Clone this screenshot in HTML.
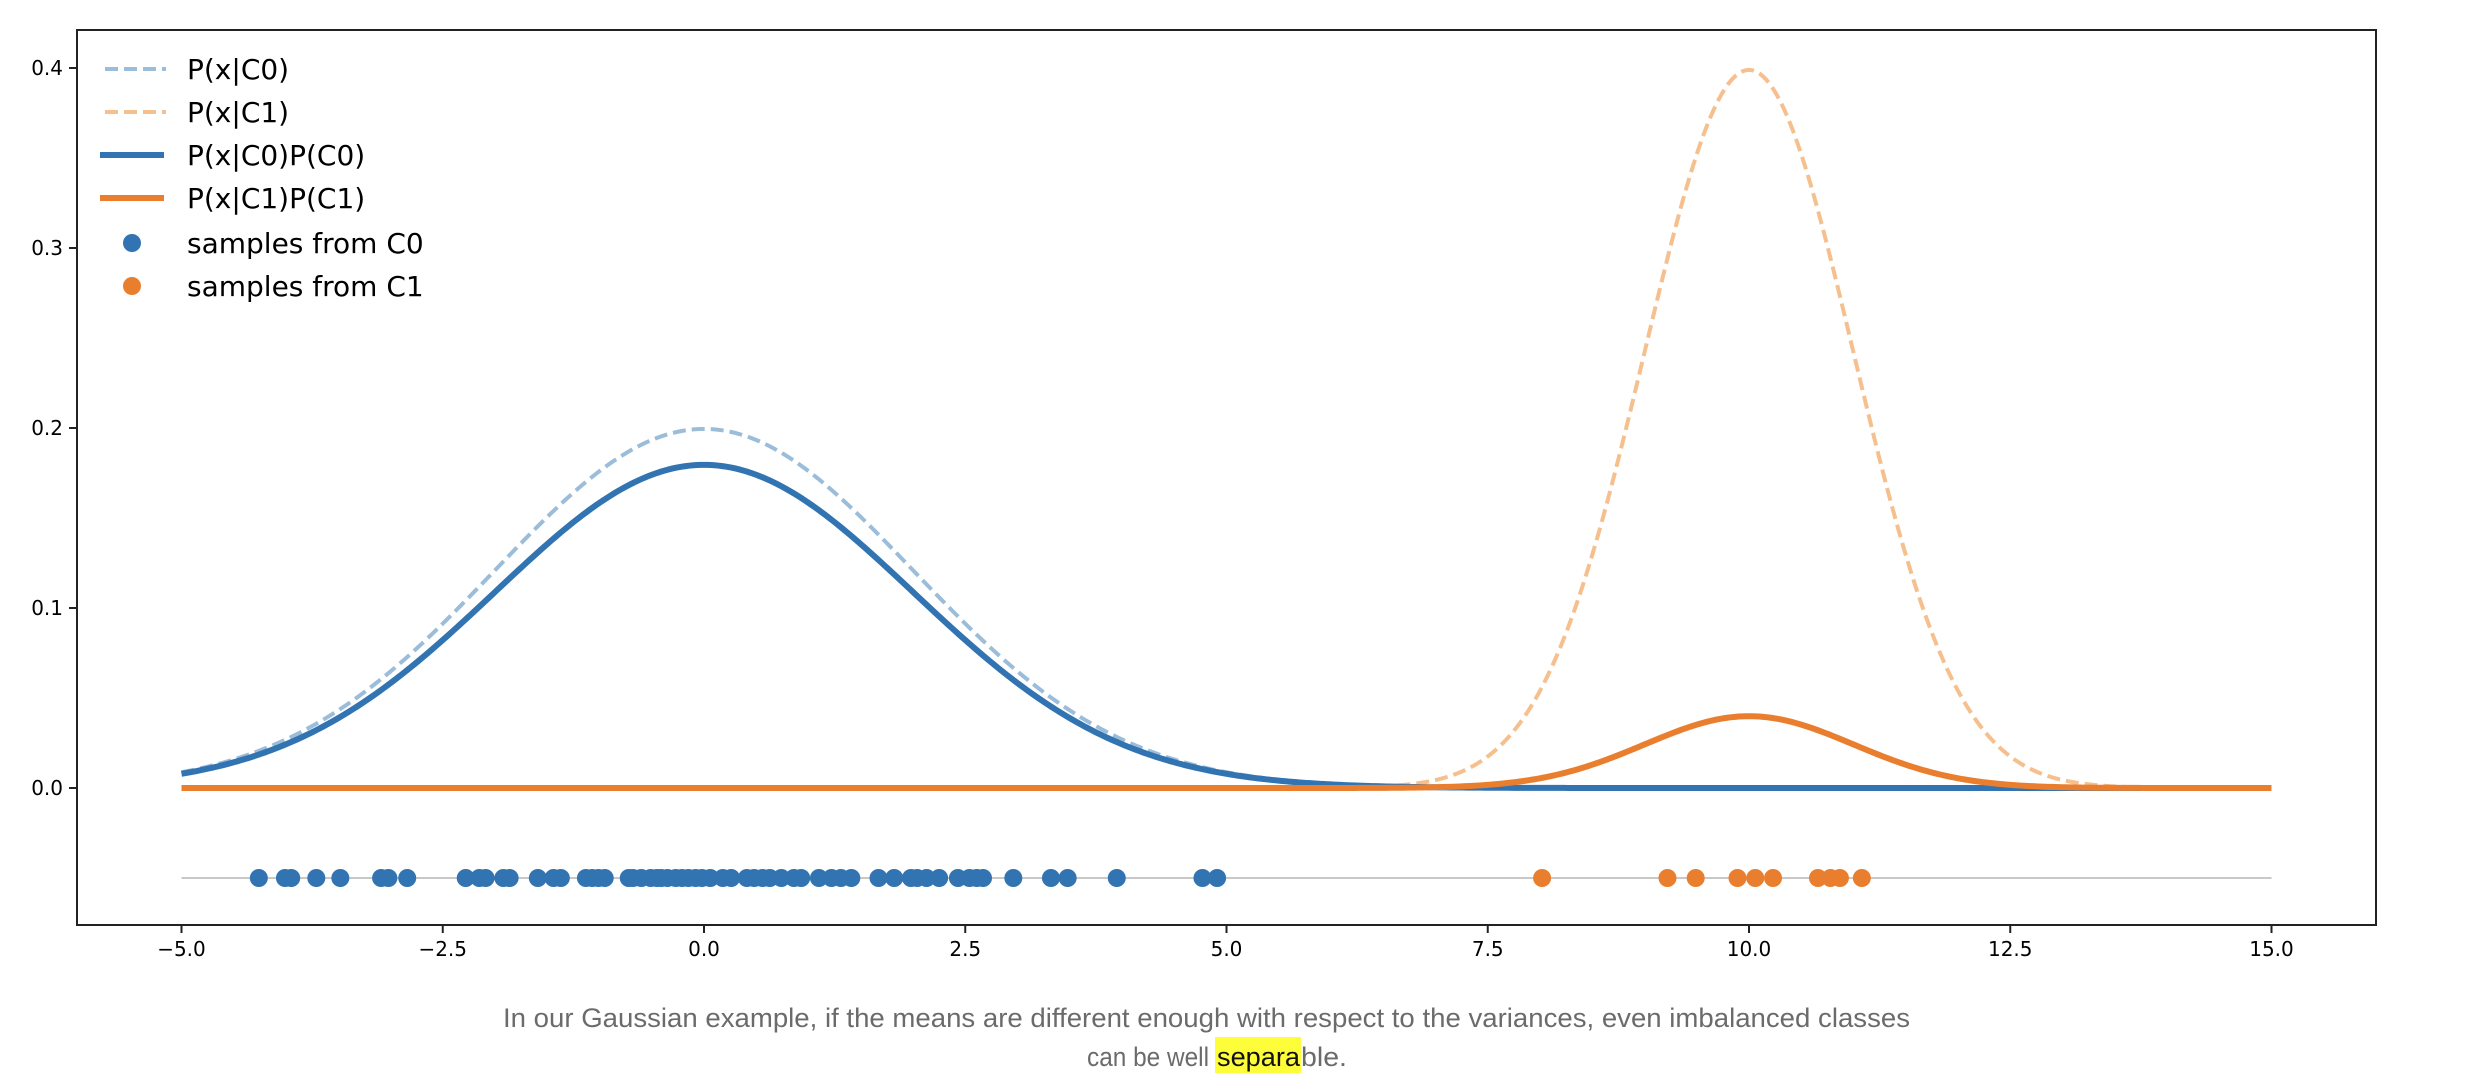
<!DOCTYPE html>
<html><head><meta charset="utf-8"><style>
html,body{margin:0;padding:0;background:#fff;}
svg{display:block;}
</style></head><body>
<svg id="chart" width="2466" height="1092" viewBox="0 0 2466 1092" xmlns="http://www.w3.org/2000/svg">
<rect x="0" y="0" width="2466" height="1092" fill="#fff"/>
<g id="marks"></g>
<g id="axes"></g>
<g id="legend" font-family="DejaVu Sans, Liberation Sans, sans-serif" font-size="28" fill="#000">
  <line x1="105" y1="69" x2="166" y2="69" stroke="#9bbdda" stroke-width="4" stroke-dasharray="13,6"/>
  <text x="187" y="79">P(x|C0)</text>
  <line x1="105" y1="112" x2="166" y2="112" stroke="#f5c08e" stroke-width="4" stroke-dasharray="13,6"/>
  <text x="187" y="122">P(x|C1)</text>
  <line x1="100" y1="155" x2="164" y2="155" stroke="#3274b1" stroke-width="6"/>
  <text x="187" y="165">P(x|C0)P(C0)</text>
  <line x1="100" y1="198" x2="164" y2="198" stroke="#e97f2e" stroke-width="6"/>
  <text x="187" y="208">P(x|C1)P(C1)</text>
  <circle cx="132" cy="243" r="9" fill="#3274b1"/>
  <text x="187" y="253">samples from C0</text>
  <circle cx="132" cy="286" r="9" fill="#e97f2e"/>
  <text x="187" y="296">samples from C1</text>
</g>
<g font-family="Liberation Sans, sans-serif" font-size="27" fill="#6b6b6b">
  <rect x="1215" y="1037" width="86" height="36" fill="#fdfd3a"/>
  <text x="503" y="1027" textLength="1407" lengthAdjust="spacingAndGlyphs">In our Gaussian example, if the means are different enough with respect to the variances, even imbalanced classes</text>
  <text x="1087" y="1066" textLength="122" lengthAdjust="spacingAndGlyphs">can be well</text>
  <text x="1217" y="1066" textLength="83" lengthAdjust="spacingAndGlyphs" fill="#111">separa</text>
  <text x="1301" y="1066" textLength="46" lengthAdjust="spacingAndGlyphs">ble.</text>
</g>
</svg>
<script>
// Data
const means = [0, 10];
const stdDevs = [2, 1];
const priors = [0.9, 0.1];
const xDomain = [-5, 15];
const samplesC0 = [-4.26,-4.01,-3.95,-3.71,-3.48,-3.09,-3.02,-2.84,-2.28,-2.15,-2.09,-1.92,-1.86,-1.59,-1.44,-1.37,-1.13,-1.07,-1.01,-0.95,-0.72,-0.68,-0.60,-0.51,-0.45,-0.41,-0.35,-0.27,-0.21,-0.15,-0.08,-0.02,0.06,0.18,0.26,0.41,0.48,0.56,0.63,0.74,0.86,0.93,1.10,1.22,1.31,1.41,1.67,1.82,1.98,2.04,2.13,2.25,2.43,2.54,2.61,2.67,2.96,3.32,3.48,3.95,4.77,4.91];
const samplesC1 = [8.02,9.22,9.49,9.89,10.06,10.23,10.66,10.78,10.87,11.08];
const sampleLevel = -0.05;
const xTicks = [-5, -2.5, 0, 2.5, 5, 7.5, 10, 12.5, 15];
const xTickLabels = ["\u22125.0","\u22122.5","0.0","2.5","5.0","7.5","10.0","12.5","15.0"];
const yTicks = [0, 0.1, 0.2, 0.3, 0.4];
const yTickLabels = ["0.0","0.1","0.2","0.3","0.4"];

const NS = "http://www.w3.org/2000/svg";
const X = v => 704 + (v - 0) * 104.5;
const Y = v => 788 - v * 1800;
const marks = document.getElementById('marks');
const axes = document.getElementById('axes');
function mk(tag, attrs, parent){ const e=document.createElementNS(NS,tag); for(const k in attrs) e.setAttribute(k,attrs[k]); parent.appendChild(e); return e; }
function pdf(x,m,s){ return Math.exp(-0.5*((x-m)/s)**2)/(s*Math.sqrt(2*Math.PI)); }
function curve(i, scale){
  let d=''; const n=600;
  for(let k=0;k<=n;k++){ const x=xDomain[0]+(xDomain[1]-xDomain[0])*k/n; const y=pdf(x,means[i],stdDevs[i])*scale; d+=(k?'L':'M')+X(x).toFixed(2)+' '+Y(y).toFixed(2); }
  return d;
}
const bl = mk('line',{x1:X(xDomain[0]),x2:X(xDomain[1]),y1:Y(sampleLevel),y2:Y(sampleLevel),stroke:'#c8c8c8','stroke-width':2},marks);


const specs = [
  {i:0, s:1, c:'#9bbdda', w:4, dash:'13,6', n:'curve-pc0'},
  {i:1, s:1, c:'#f5c08e', w:4, dash:'13,6', n:'curve-pc1'},
  {i:0, s:priors[0], c:'#3274b1', w:6, dash:'', n:'curve-pc0-prior'},
  {i:1, s:priors[1], c:'#e97f2e', w:6, dash:'', n:'curve-pc1-prior'}
];
specs.forEach(sp=>{
  const p = mk('path',{d:curve(sp.i,sp.s),fill:'none',stroke:sp.c,'stroke-width':sp.w},marks);
  if(sp.dash) p.setAttribute('stroke-dasharray',sp.dash);
  
  
});
samplesC0.forEach(v=>{
  const c = mk('circle',{cx:X(v),cy:Y(sampleLevel),r:9,fill:'#3274b1'},marks);
  
  
});
samplesC1.forEach(v=>{
  const c = mk('circle',{cx:X(v),cy:Y(sampleLevel),r:9,fill:'#e97f2e'},marks);
  
  
});
const fr = mk('rect',{x:77,y:30,width:2376-77,height:925-30,fill:'none',stroke:'#222','stroke-width':2},axes);


xTicks.forEach((t,k)=>{
  const l = mk('line',{x1:X(t),x2:X(t),y1:925,y2:933,stroke:'#222','stroke-width':2},axes);
  
  
  const tx = mk('text',{x:X(t),y:956,'text-anchor':'middle','font-family':'DejaVu Sans, Liberation Sans, sans-serif','font-size':20,fill:'#000'},axes);
  tx.textContent = xTickLabels[k];
  
  
});
yTicks.forEach((t,k)=>{
  const l = mk('line',{x1:69,x2:77,y1:Y(t),y2:Y(t),stroke:'#222','stroke-width':2},axes);
  
  
  const tx = mk('text',{x:63,y:Y(t)+7,'text-anchor':'end','font-family':'DejaVu Sans, Liberation Sans, sans-serif','font-size':20,fill:'#000'},axes);
  tx.textContent = yTickLabels[k];
  
  
});
</script>
</body></html>
